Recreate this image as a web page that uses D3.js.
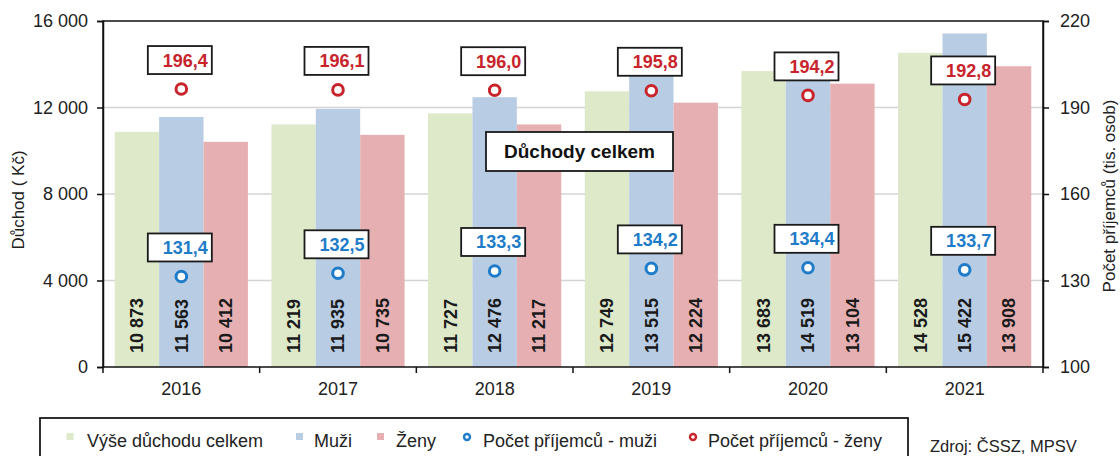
<!DOCTYPE html>
<html>
<head>
<meta charset="utf-8">
<script src="https://cdn.jsdelivr.net/npm/d3@7"></script>
<style>
  body { margin: 0; background: #fff; }
  svg text { font-family: "Liberation Sans", Arial, sans-serif; }
</style>
</head>
<body>
<div id="chart"></div>
<script>
// data
var years = ["2016", "2017", "2018", "2019", "2020", "2021"];
var celkem = [10873, 11219, 11727, 12749, 13683, 14528];
var muzi = [11563, 11935, 12476, 13515, 14519, 15422];
var zeny = [10412, 10735, 11217, 12224, 13104, 13908];
var pocetMuzi = [131.4, 132.5, 133.3, 134.2, 134.4, 133.7];
var pocetZeny = [196.4, 196.1, 196.0, 195.8, 194.2, 192.8];
var leftTicks = [0, 4000, 8000, 12000, 16000];
var rightTicks = [100, 130, 160, 190, 220];

var W = 1120, H = 456;
var margin = {top: 21, right: 77, bottom: 89, left: 103};

var svg = d3.select("#chart").append("svg")
  .attr("width", W)
  .attr("height", H);

var x = d3.scaleBand()
  .domain(years)
  .range([margin.left, W - margin.right]);

var keys = ["celkem", "muzi", "zeny"];
var colors = {celkem: "#dde9c8", muzi: "#b8cce4", zeny: "#e6b0b2"};
var barVals = {celkem: celkem, muzi: muzi, zeny: zeny};

var xs = d3.scaleBand()
  .domain(keys)
  .range([x.bandwidth() * 0.075, x.bandwidth() * 0.925]);

var yL = d3.scaleLinear().domain([0, 16000]).range([H - margin.bottom, margin.top]);
var yR = d3.scaleLinear().domain([100, 220]).range([H - margin.bottom, margin.top]);

var fmt = function(v) { return d3.format(",")(v).replace(/,/g, " "); };
var dec = function(v) { return d3.format(".1f")(v).replace(".", ","); };

// gridlines
svg.append("g")
  .selectAll("line")
  .data(leftTicks.slice(1, -1))
  .enter().append("line")
    .attr("x1", margin.left)
    .attr("x2", W - margin.right)
    .attr("y1", function(d) { return yL(d); })
    .attr("y2", function(d) { return yL(d); })
    .attr("stroke", "#d4d4d4")
    .attr("stroke-width", 1.5);

// bars
var rows = years.map(function(y, i) {
  return {year: y, i: i};
});

var groups = svg.append("g").selectAll("g")
  .data(rows)
  .enter().append("g")
  .attr("transform", function(d) { return "translate(" + x(d.year) + ",0)"; });

groups.selectAll("rect")
  .data(function(d) {
    return keys.map(function(k) { return {key: k, value: barVals[k][d.i]}; });
  })
  .enter().append("rect")
    .attr("x", function(d) { return xs(d.key); })
    .attr("width", xs.bandwidth())
    .attr("y", function(d) { return yL(d.value); })
    .attr("height", function(d) { return yL(0) - yL(d.value); })
    .attr("fill", function(d) { return colors[d.key]; });

// bar value labels, rotated
groups.selectAll("text.val")
  .data(function(d) {
    return keys.map(function(k) { return {key: k, value: barVals[k][d.i]}; });
  })
  .enter().append("text")
    .attr("class", "val")
    .attr("transform", function(d) {
      return "translate(" + (xs(d.key) + xs.bandwidth() / 2) + "," + (yL(0) - 14) + ") rotate(-90)";
    })
    .attr("dy", "0.35em")
    .attr("text-anchor", "start")
    .style("font-size", "18px")
    .style("font-weight", "bold")
    .style("fill", "#1a1a1a")
    .text(function(d) { return fmt(d.value); });

// frame
svg.append("rect")
  .attr("x", margin.left)
  .attr("y", margin.top)
  .attr("width", W - margin.left - margin.right)
  .attr("height", H - margin.top - margin.bottom)
  .attr("fill", "none")
  .attr("stroke", "#111")
  .attr("stroke-width", 1.5);

// left axis
var axL = svg.append("g")
  .attr("transform", "translate(" + margin.left + ",0)")
  .call(d3.axisLeft(yL).tickValues(leftTicks).tickFormat(fmt).tickSize(6).tickPadding(9));

// right axis
var axR = svg.append("g")
  .attr("transform", "translate(" + (W - margin.right) + ",0)")
  .call(d3.axisRight(yR).tickValues(rightTicks).tickSize(6).tickPadding(11));

[axL, axR].forEach(function(ax) {
  ax.select(".domain").attr("stroke", "#111").attr("stroke-width", 1.5);
  ax.selectAll(".tick line").attr("stroke", "#111").attr("stroke-width", 1.5);
  ax.selectAll(".tick text")
    .style("font-size", "18px")
    .style("fill", "#222")
    .style("font-family", "'Liberation Sans', Arial, sans-serif");
});

// bottom ticks at category boundaries
var bounds = years.map(function(y) { return x(y); }).concat([x.range()[1]]);
svg.append("g").selectAll("line")
  .data(bounds)
  .enter().append("line")
    .attr("x1", function(d) { return d; })
    .attr("x2", function(d) { return d; })
    .attr("y1", yL(0))
    .attr("y2", yL(0) + 6)
    .attr("stroke", "#111")
    .attr("stroke-width", 1.5);

svg.append("g").selectAll("text")
  .data(years)
  .enter().append("text")
    .attr("x", function(d) { return x(d) + x.bandwidth() / 2; })
    .attr("y", 395)
    .attr("text-anchor", "middle")
    .style("font-size", "18px")
    .style("fill", "#222")
    .text(function(d) { return d; });

// axis titles
svg.append("text")
  .attr("transform", "translate(24,200) rotate(-90)")
  .attr("text-anchor", "middle")
  .style("font-size", "17px")
  .style("fill", "#222")
  .text("Důchod ( Kč)");

svg.append("text")
  .attr("transform", "translate(1115,196) rotate(-90)")
  .attr("text-anchor", "middle")
  .style("font-size", "17px")
  .style("fill", "#222")
  .text("Počet příjemců (tis. osob)");

// points + boxed labels
function drawPoints(vals, color) {
  var pts = years.map(function(y, i) { return {year: y, value: vals[i]}; });
  var g = svg.append("g");

  g.selectAll("circle")
    .data(pts)
    .enter().append("circle")
      .attr("cx", function(d) { return x(d.year) + x.bandwidth() / 2; })
      .attr("cy", function(d) { return yR(d.value); })
      .attr("r", 5.3)
      .attr("fill", "#fff")
      .attr("stroke", color)
      .attr("stroke-width", 3);

  var lab = g.selectAll("g.lab")
    .data(pts)
    .enter().append("g")
      .attr("class", "lab")
      .attr("transform", function(d) {
        return "translate(" + (x(d.year) + x.bandwidth() / 2 - 1.5) + "," + (yR(d.value) - 29) + ")";
      });

  lab.append("rect")
    .attr("x", -32)
    .attr("y", -14)
    .attr("width", 64)
    .attr("height", 28)
    .attr("fill", "#fff")
    .attr("stroke", "#1a1a1a")
    .attr("stroke-width", 1.8);

  lab.append("text")
    .attr("x", 28)
    .attr("y", 0)
    .attr("dy", "0.36em")
    .attr("text-anchor", "end")
    .style("font-size", "18px")
    .style("font-weight", "bold")
    .style("fill", color)
    .text(function(d) { return dec(d.value); });
}

drawPoints(pocetMuzi, "#1f7cc9");
drawPoints(pocetZeny, "#c8242b");

// annotation box
var ann = svg.append("g")
  .attr("transform", "translate(" + (x("2019") + 6.5) + ",151.5)");
ann.append("rect")
  .attr("x", -93.5)
  .attr("y", -19.5)
  .attr("width", 187)
  .attr("height", 39)
  .attr("fill", "#fff")
  .attr("stroke", "#1a1a1a")
  .attr("stroke-width", 1.8);
ann.append("text")
  .attr("text-anchor", "middle")
  .attr("dy", "0.36em")
  .style("font-size", "19px")
  .style("font-weight", "bold")
  .style("fill", "#111")
  .text("Důchody celkem");

// legend
var legend = svg.append("g");
legend.append("rect")
  .attr("x", 40)
  .attr("y", 418)
  .attr("width", 868)
  .attr("height", 60)
  .attr("fill", "#fff")
  .attr("stroke", "#1a1a1a")
  .attr("stroke-width", 1.8);

var legItems = [
  {label: "Výše důchodu celkem", type: "sq", color: colors.celkem, mx: 70, tx: 87},
  {label: "Muži", type: "sq", color: colors.muzi, mx: 299.5, tx: 314},
  {label: "Ženy", type: "sq", color: colors.zeny, mx: 380.5, tx: 396},
  {label: "Počet příjemců - muži", type: "ci", color: "#1f7cc9", mx: 467, tx: 483},
  {label: "Počet příjemců - ženy", type: "ci", color: "#c8242b", mx: 693, tx: 708}
];

var li = legend.selectAll("g.item")
  .data(legItems)
  .enter().append("g")
  .attr("class", "item");

li.filter(function(d) { return d.type == "sq"; })
  .append("rect")
    .attr("x", function(d) { return d.mx - 3.5; })
    .attr("y", 433)
    .attr("width", 7)
    .attr("height", 7)
    .attr("fill", function(d) { return d.color; });

li.filter(function(d) { return d.type == "ci"; })
  .append("circle")
    .attr("cx", function(d) { return d.mx; })
    .attr("cy", 437)
    .attr("r", 3)
    .attr("fill", "#fff")
    .attr("stroke", function(d) { return d.color; })
    .attr("stroke-width", 2.4);

li.append("text")
  .attr("x", function(d) { return d.tx; })
  .attr("y", 446.5)
  .style("font-size", "18px")
  .style("fill", "#222")
  .text(function(d) { return d.label; });

svg.append("text")
  .attr("x", 930)
  .attr("y", 452)
  .style("font-size", "16.5px")
  .style("fill", "#222")
  .text("Zdroj: ČSSZ, MPSV");
</script>
</body>
</html>
